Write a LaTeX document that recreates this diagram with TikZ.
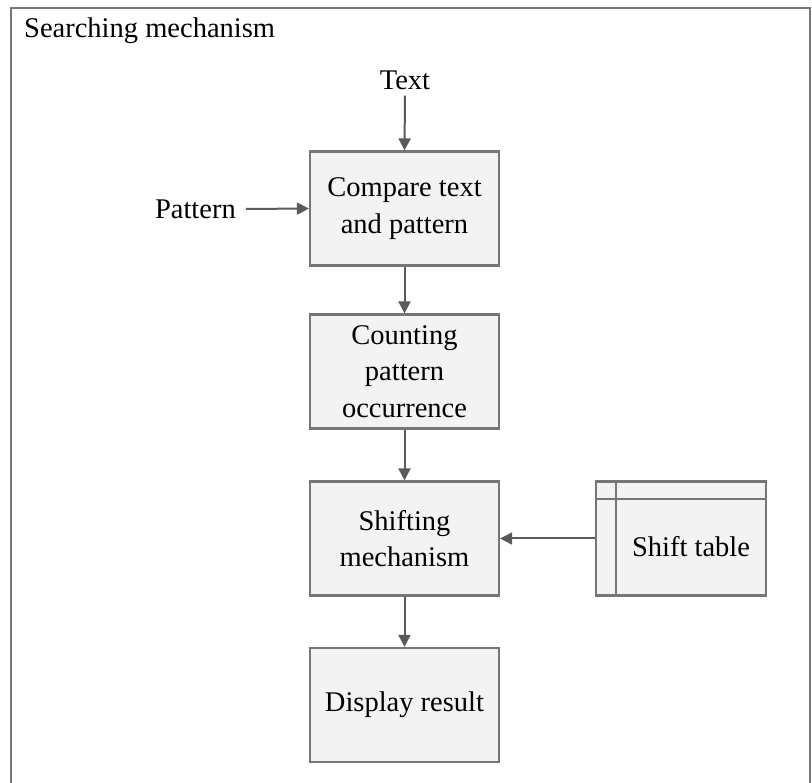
\documentclass[tikz,border=0pt]{standalone}
\usepackage{fontspec}
\setmainfont{Liberation Serif}
\usetikzlibrary{arrows.meta}
\definecolor{boxline}{RGB}{118,118,118}
\definecolor{boxfill}{RGB}{243,243,243}
\definecolor{arrowline}{RGB}{90,90,90}
\definecolor{frameline}{RGB}{120,120,120}
\tikzset{
  procbox/.style={draw=boxline, line width=2.2pt, fill=boxfill,
    minimum width=189pt, minimum height=114pt, inner sep=0pt,
    align=center,
    font=\fontsize{28.5pt}{36.5pt}\selectfont},
  tablebox/.style={draw=boxline, line width=2.2pt, fill=boxfill,
    minimum width=170pt, minimum height=114pt, inner sep=0pt},
  plainlabel/.style={inner sep=2pt, font=\fontsize{28.5pt}{36.5pt}\selectfont},
  flow/.style={draw=arrowline, line width=2pt,
    -{Triangle[length=12pt,width=12pt]}}
}
\begin{document}
\begin{tikzpicture}[x=1pt,y=-1pt]
  \useasboundingbox (0,0) rectangle (812,783);
  \fill[white] (0,0) rectangle (812,783);
  % enclosing frame, open at the bottom edge of the page
  \draw[frameline, line width=2.4pt] (11,800) -- (11,8) -- (810,8) -- (810,800);
  \node[plainlabel, anchor=west] (title) at (22,31) {Searching mechanism};

  % main chain of steps
  \node[procbox] (cmp) at (404.5,208.5) {Compare text\\and pattern};
  \node[procbox] (cnt) at (404.5,371.5) {Counting\\pattern\\occurrence};
  \node[procbox] (shf) at (404.5,538.5) {Shifting\\mechanism};
  \node[procbox] (dsp) at (404.5,705) {Display result};

  % inputs
  \node[plainlabel] (txt) at (405,80) {Text};
  \node[plainlabel, anchor=east] (pat) at (238,209) {Pattern};

  % shift table drawn as a data store with a header row and side column
  \node[tablebox] (tbl) at (681,538.5) {};
  \draw[boxline, line width=2.2pt] (616,481.5) -- (616,595.5);
  \draw[boxline, line width=2.2pt] (596,499) -- (766,499);
  \node[plainlabel] (tbltext) at (691,547) {Shift table};

  % connectors
  \draw[flow] ([yshift=-4pt]txt.south) -- (cmp.north);
  \draw[flow] ([xshift=8pt]pat.east) -- (cmp.west);
  \draw[flow] (cmp.south) -- (cnt.north);
  \draw[flow] (cnt.south) -- (shf.north);
  \draw[flow] (shf.south) -- (dsp.north);
  \draw[flow] (tbl.west) -- (shf.east);
\end{tikzpicture}
\end{document}
